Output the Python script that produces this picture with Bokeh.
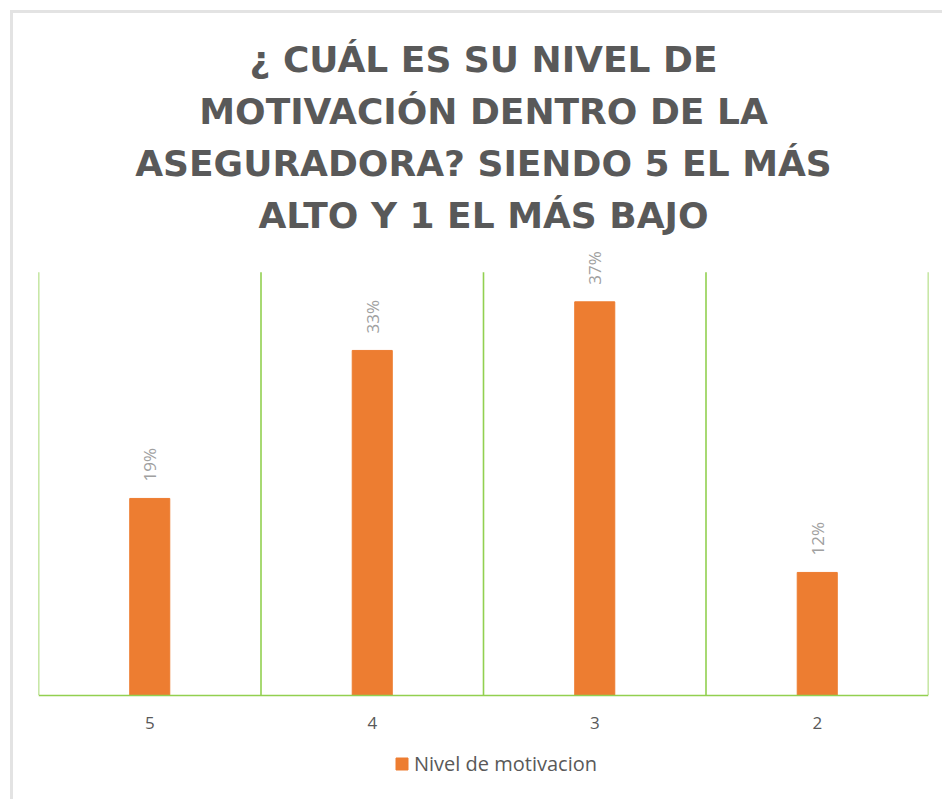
import math
from bokeh.plotting import figure
from bokeh.models import ColumnDataSource, Range1d, FactorRange, Legend, LegendItem, Title
from bokeh.transform import dodge
from bokeh.core.properties import value
from bokeh.embed import file_html
from bokeh.resources import INLINE

# ---- data ----
categories = ["5", "4", "3", "2"]
motivacion = [0.186, 0.326, 0.372, 0.116]
labels = [f"{v:.0%}" for v in motivacion]
series_name = "Nivel de motivacion"
title_lines = [
    "¿ CUÁL ES SU NIVEL DE",
    "MOTIVACIÓN DENTRO DE LA",
    "ASEGURADORA? SIENDO 5 EL MÁS",
    "ALTO Y 1 EL MÁS BAJO",
]
axis_max = 0.40

ORANGE = "#ED7D31"
GREEN = "#92D050"
DARK = "#595959"
FONT = "Open Sans"
TITLE_FONT = "DejaVu Sans"

src = ColumnDataSource(dict(cat=categories, val=motivacion, lab=labels))
edge_src = ColumnDataSource(dict(cat=categories[-1:]))

p = figure(
    frame_width=890, frame_height=555,
    x_range=FactorRange(*categories, range_padding=0),
    y_range=Range1d(-0.095, 0.43),
    output_backend="svg", toolbar_location=None,
    min_border_left=25, min_border_right=14, min_border_top=227, min_border_bottom=4,
)
p.margin = (10, 0, 0, 10)
p.styles = {"border-top": "3px solid #e3e3e3", "border-left": "3px solid #e3e3e3"}

# category boundary lines
p.segment(x0=dodge("cat", -0.5, range=p.x_range), y0=0,
          x1=dodge("cat", -0.5, range=p.x_range), y1=axis_max,
          source=src, line_color=GREEN, line_width=1.6)
p.segment(x0=dodge("cat", 0.5, range=p.x_range), y0=0,
          x1=dodge("cat", 0.5, range=p.x_range), y1=axis_max,
          source=edge_src, line_color=GREEN, line_width=1.6)

bars = p.vbar(x="cat", top="val", width=0.18, source=src,
              fill_color=ORANGE, line_color=ORANGE)

p.text(x="cat", y="val", text="lab", source=src, angle=math.pi / 2,
       text_align="left", text_baseline="middle", y_offset=-17,
       text_font=value(FONT), text_font_size="17px", text_color="#a0a0a0")

p.title.visible = False
for line in reversed(title_lines):
    p.add_layout(Title(text=line, align="center", text_font=TITLE_FONT,
                       text_font_size="36px", text_font_style="bold",
                       text_color=DARK, standoff=9), "above")

p.yaxis.visible = False
p.xgrid.visible = False
p.ygrid.visible = False
p.outline_line_color = None

ax = p.xaxis[0]
ax.fixed_location = 0
ax.axis_line_color = GREEN
ax.axis_line_width = 1.6
ax.major_tick_line_color = None
ax.minor_tick_line_color = None
ax.major_label_text_font = FONT
ax.major_label_text_font_size = "17px"
ax.major_label_text_color = DARK
ax.major_label_standoff = 16

legend = Legend(
    items=[LegendItem(label=series_name, renderers=[bars])],
    orientation="horizontal", location=(356, 18),
    border_line_color=None, background_fill_alpha=0,
    glyph_width=15, glyph_height=15, label_standoff=5,
    label_text_font=FONT, label_text_font_size="20px", label_text_color=DARK,
    margin=0, padding=4,
)
p.add_layout(legend, "center")

open("out.html", "w").write(file_html(p, INLINE))
